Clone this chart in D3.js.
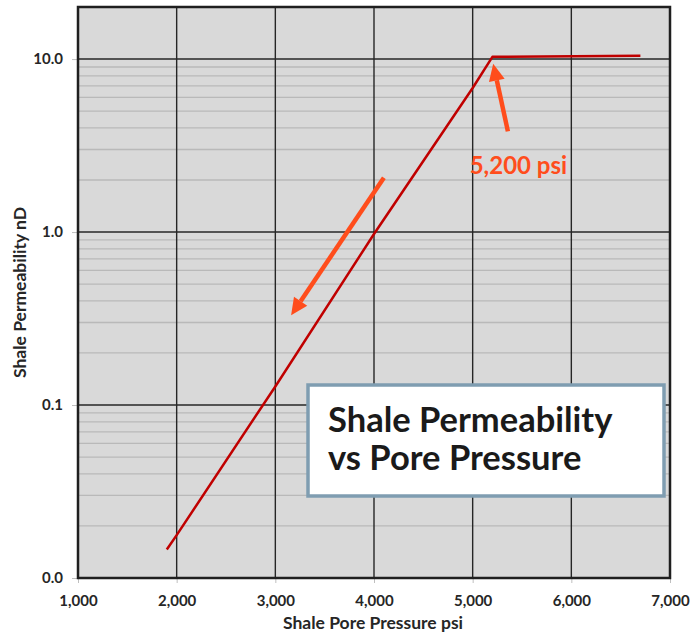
<!DOCTYPE html>
<html>
<head>
<meta charset="utf-8">
<script src="https://cdn.jsdelivr.net/npm/d3@7"></script>
<style>
  body { margin: 0; background: #fff; }
  text { font-family: Lato, "Open Sans", sans-serif; }
</style>
</head>
<body>
<div id="chart"></div>
<script>
// data
const pressure = [1900, 2000, 3000, 4000, 5000, 5200, 6700];
const permeability = [0.0146, 0.0177, 0.128, 0.975, 6.8, 10.3, 10.45];

const xTicks = [1000, 2000, 3000, 4000, 5000, 6000, 7000];
const yTicks = [0.01, 0.1, 1, 10];
const yTickLabels = ['0.0', '0.1', '1.0', '10.0'];

const titleLines = ['Shale Permeability', 'vs Pore Pressure'];
const kneeLabel = '5,200 psi';
// arrows: [fromX, fromY, toX, toY] in data units
const arrows = [
  [4100, 2.06, 3160, 0.33],
  [5357, 3.82, 5208, 9.4]
];

const width = 690, height = 634;
const margin = {top: 7, right: 20, bottom: 56, left: 78};
const w = width - margin.left - margin.right;
const h = height - margin.top - margin.bottom;

const svg = d3.select('#chart').append('svg')
  .attr('width', width)
  .attr('height', height);

const x = d3.scaleLinear().domain([1000, 7000]).range([0, w]);
const y = d3.scaleLog().domain([0.01, 20]).range([h, 0]);

const g = svg.append('g')
  .attr('transform', `translate(${margin.left},${margin.top})`);

// plot background
g.append('rect')
  .attr('width', w).attr('height', h)
  .attr('fill', '#d9d9d9');

// minor gridlines (2..9 in every decade)
const minor = [];
[0.01, 0.1, 1].forEach(d => { for (let k = 2; k <= 9; k++) minor.push(d * k); });
g.append('g').selectAll('line').data(minor).join('line')
  .attr('x1', 0).attr('x2', w)
  .attr('y1', d => y(d)).attr('y2', d => y(d))
  .attr('stroke', '#b9b9b9').attr('stroke-width', 1.3);

// major gridlines
g.append('g').selectAll('line').data(yTicks).join('line')
  .attr('x1', 0).attr('x2', w)
  .attr('y1', d => y(d)).attr('y2', d => y(d))
  .attr('stroke', '#262626').attr('stroke-width', 1.4);
g.append('g').selectAll('line').data(xTicks).join('line')
  .attr('x1', d => x(d)).attr('x2', d => x(d))
  .attr('y1', 0).attr('y2', h)
  .attr('stroke', '#262626').attr('stroke-width', 1.4);

// axes
const xAxis = d3.axisBottom(x).tickValues(xTicks).tickFormat(d3.format(',')).tickSize(5).tickPadding(12);
const yAxis = d3.axisLeft(y).tickValues(yTicks).tickFormat((d, i) => yTickLabels[i]).tickSize(6).tickPadding(9);

const xAxisG = g.append('g').attr('transform', `translate(0,${h})`).call(xAxis);
const yAxisG = g.append('g').call(yAxis);
[xAxisG, yAxisG].forEach(a => {
  a.select('.domain').remove();
  a.selectAll('.tick line').attr('stroke', '#bfbfbf').attr('stroke-width', 1);
  a.selectAll('.tick text')
    .attr('fill', '#262626')
    .style('font-size', '15px')
    .style('font-weight', 700);
});

// plot border
g.append('rect')
  .attr('width', w).attr('height', h)
  .attr('fill', 'none')
  .attr('stroke', '#1f1f1f').attr('stroke-width', 2.5);

// the curve
const pts = pressure.map((p, i) => [p, permeability[i]]);
g.append('path')
  .datum(pts)
  .attr('fill', 'none')
  .attr('stroke', '#c00000')
  .attr('stroke-width', 2.5)
  .attr('stroke-linejoin', 'round')
  .attr('d', d3.line().x(d => x(d[0])).y(d => y(d[1])));

// arrows
const arrowColor = '#ff4d1c';
arrows.forEach(a => {
  const x1 = x(a[0]), y1 = y(a[1]), x2 = x(a[2]), y2 = y(a[3]);
  const ang = Math.atan2(y2 - y1, x2 - x1);
  const len = 17, half = 8;
  const bx = x2 - len * Math.cos(ang), by = y2 - len * Math.sin(ang);
  g.append('line')
    .attr('x1', x1).attr('y1', y1).attr('x2', bx).attr('y2', by)
    .attr('stroke', arrowColor).attr('stroke-width', 4.5);
  const px = -Math.sin(ang) * half, py = Math.cos(ang) * half;
  g.append('polygon')
    .attr('points', [[x2, y2], [bx + px, by + py], [bx - px, by - py]].map(p => p.join(',')).join(' '))
    .attr('fill', arrowColor);
});

g.append('text')
  .attr('x', x(4970)).attr('y', 174 - margin.top)
  .attr('fill', arrowColor)
  .style('font-size', '24px')
  .style('font-weight', 700)
  .text(kneeLabel);

// title box
const box = g.append('g').attr('transform', `translate(${308 - margin.left},${385 - margin.top})`);
box.append('rect')
  .attr('width', 356).attr('height', 111)
  .attr('fill', '#fff')
  .attr('stroke', '#7f9db1').attr('stroke-width', 3.5);
box.selectAll('text').data(titleLines).join('text')
  .attr('x', 20)
  .attr('y', (d, i) => 47 + i * 38)
  .attr('fill', '#1a1a1a')
  .style('font-size', '34.5px')
  .style('font-weight', 700)
  .text(d => d);

// axis titles
svg.append('text')
  .attr('x', 373).attr('y', 629)
  .attr('text-anchor', 'middle')
  .attr('fill', '#262626')
  .style('font-size', '17.5px').style('font-weight', 700)
  .text('Shale Pore Pressure psi');
svg.append('text')
  .attr('transform', `translate(26,${margin.top + h / 2}) rotate(-90)`)
  .attr('text-anchor', 'middle')
  .attr('fill', '#262626')
  .style('font-size', '17.5px').style('font-weight', 700)
  .text('Shale Permeability nD');
</script>
</body>
</html>
